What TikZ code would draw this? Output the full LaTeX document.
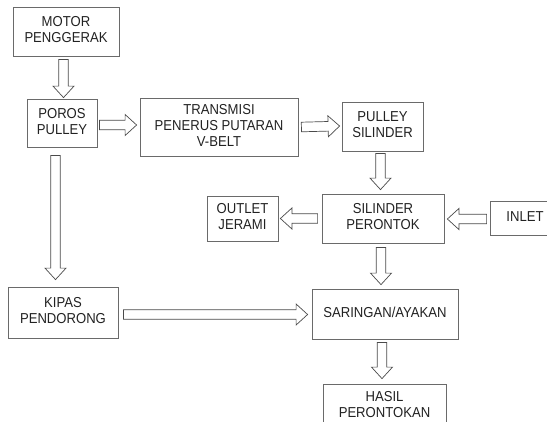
\documentclass[tikz,border=0pt]{standalone}
\usepackage{graphicx}
\usepackage{fontspec}
\setmainfont{Liberation Sans}
\usetikzlibrary{calc}
\definecolor{boxline}{HTML}{6A6A6A}
\definecolor{arrline}{HTML}{4A4A4A}
\definecolor{txt}{HTML}{222222}
\newcommand\lbl[1]{\scalebox{1}[1.1]{\begin{tabular}{@{}c@{}}#1\end{tabular}}}
\newcommand\blkarr[2]{%
  \coordinate (aS) at #1;
  \coordinate (aT) at #2;
  \coordinate (aH) at ($(aT)!11.5pt!(aS)$);
  \draw[blockarrow] ($(aS)!4.8pt!90:(aT)$) -- ($(aH)!4.8pt!90:(aT)$) -- ($(aH)!10.5pt!90:(aT)$) -- (aT)
    -- ($(aH)!10.5pt!-90:(aT)$) -- ($(aH)!4.8pt!-90:(aT)$) -- ($(aS)!4.8pt!-90:(aT)$) -- cycle;}
\begin{document}
\begin{tikzpicture}[x=1pt,y=-1pt,
  box/.style={draw=boxline, line width=0.8pt, inner sep=0pt, text=txt,
    font=\fontsize{13.1}{14.5}\selectfont},
  blockarrow/.style={draw=arrline, line width=0.7pt, fill=white, line join=miter}]
\useasboundingbox (0,0) rectangle (547,421);
\clip (0,0) rectangle (547,421);
\fill[white] (0,0) rectangle (547,421);
\node[box, minimum width=106pt, minimum height=49pt] (motor) at (66,31.5) {\lbl{MOTOR\\PENGGERAK}};
\node[box, minimum width=70pt, minimum height=48pt] (poros) at (62,123) {\lbl{POROS\\PULLEY}};
\node[box, minimum width=158pt, minimum height=58pt] (trans) at (219,127) {\lbl{TRANSMISI\\PENERUS PUTARAN\\V-BELT}};
\node[box, minimum width=81pt, minimum height=49pt] (pulley) at (382.5,126.5) {\lbl{PULLEY\\SILINDER}};
\node[box, minimum width=122pt, minimum height=49pt] (silinder) at (383,218.5) {\lbl{SILINDER\\PERONTOK}};
\node[box, minimum width=71pt, minimum height=45pt] (outlet) at (242.5,218.5) {\lbl{OUTLET\\JERAMI}};
\node[box, minimum width=70pt, minimum height=34pt] (inlet) at (525,218) {\lbl{INLET}};
\node[box, minimum width=110pt, minimum height=51pt] (kipas) at (63,312.5) {\lbl{KIPAS\\PENDORONG}};
\node[box, minimum width=146pt, minimum height=50pt] (saringan) at (385,314) {\lbl{SARINGAN/AYAKAN}};
\node[box, minimum width=123pt, minimum height=44pt] (hasil) at (384.5,406) {\lbl{HASIL\\PERONTOKAN}};
\blkarr{([xshift=-2.5pt,yshift=-3pt]motor.south)}{([xshift=1.5pt,yshift=1pt]poros.north)}
\blkarr{([xshift=2pt,yshift=-2pt]poros.east)}{([xshift=-3pt,yshift=2pt]trans.west)}
\blkarr{([xshift=3pt]trans.east)}{([xshift=-2pt,yshift=0.5pt]pulley.west)}
\blkarr{([xshift=-2pt,yshift=-2pt]pulley.south)}{([xshift=-2.5pt,yshift=4pt]silinder.north)}
\blkarr{([xshift=-4pt]silinder.west)}{([xshift=2pt]outlet.east)}
\blkarr{([xshift=-3pt,yshift=-1pt]inlet.west)}{([xshift=3pt,yshift=-0.5pt]silinder.east)}
\blkarr{([xshift=-2pt,yshift=-4pt]silinder.south)}{([xshift=-4pt,yshift=4pt]saringan.north)}
\blkarr{([xshift=-3pt,yshift=-3pt]saringan.south)}{([xshift=-2.5pt,yshift=5pt]hasil.north)}
\blkarr{([xshift=-6.5pt,yshift=-8pt]poros.south)}{([xshift=-7.5pt,yshift=7pt]kipas.north)}
\blkarr{([xshift=5pt,yshift=-2pt]kipas.east)}{([xshift=-4pt,yshift=-0.5pt]saringan.west)}
\end{tikzpicture}
\end{document}
